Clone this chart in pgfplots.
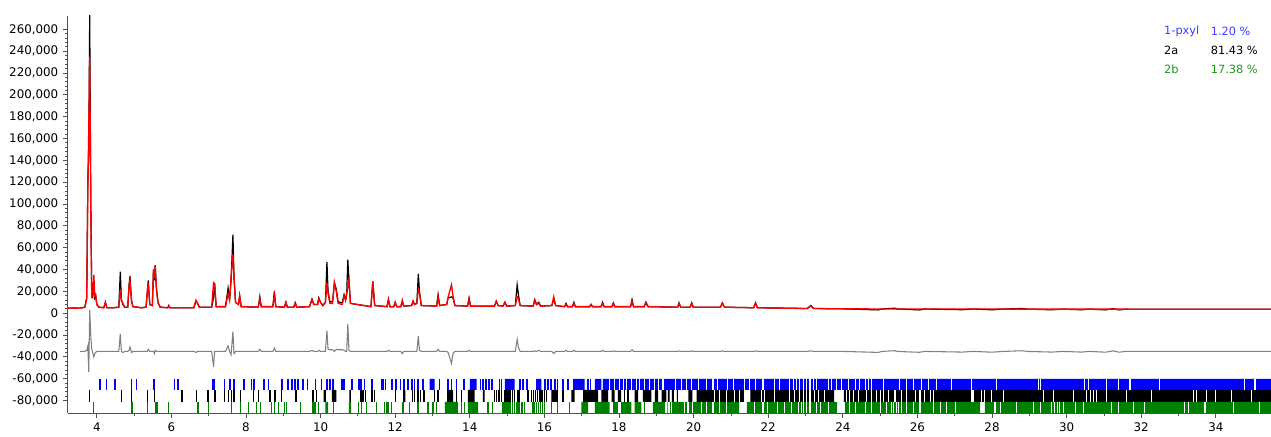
\documentclass[border=0pt]{standalone}
\usepackage{fontspec}
\setmainfont{DejaVu Sans}
\usepackage{pgfplots}
\usepackage{pgfplotstable}
\pgfplotsset{compat=1.18}
\definecolor{phblue}{RGB}{0,0,255}
\definecolor{phgreen}{RGB}{0,128,0}
\definecolor{diffgray}{RGB}{128,128,128}
\definecolor{axgray}{RGB}{80,80,80}
\definecolor{legblue}{RGB}{60,60,255}
\definecolor{leggreen}{RGB}{30,150,30}

% x = 2theta, obs/calc/diff in thousands of counts (diff = obs - calc - 35)
\pgfplotstableread{
x obs calc diff
3.23 4.6 4.6 -35
3.40 4.7 4.7 -35
3.55 4.6 4.6 -35
3.68 5.5 5.5 -35
3.73 14 13 -34
3.76 121 116 -30
3.785 150 169 -54
3.81 273 235 3
3.84 100 87 -22
3.865 17 15 -33
3.89 15 16 -36
3.92 30 35 -40
3.945 14 16 -37
3.97 16 17 -36
4.00 8 8 -35
4.06 5.5 5.5 -35
4.19 5 5 -35
4.23 10 10 -35
4.27 5 5 -35
4.45 5 5 -35
4.59 5.5 5.5 -35
4.63 38 22 -19
4.66 12 12 -35
4.70 8 9 -36
4.75 5.5 5.5 -35
4.83 5.5 5.5 -35
4.865 26 25 -34
4.89 34 30 -31
4.93 11 12 -36
4.97 6 6 -35
5.20 5 5 -35
5.32 5.5 5.5 -35
5.355 20 20 -35
5.38 30 28 -33
5.42 8 8 -35
5.49 7 7 -35
5.52 40 40 -35
5.545 30 32 -37
5.565 44 43 -34
5.60 22 22 -35
5.64 10 10 -35
5.70 5.5 5.5 -35
5.90 5 5 -35
5.93 7 7 -35
5.96 5 5 -35
6.60 5 5 -35
6.66 11 12 -36
6.70 9 9 -35
6.75 5.5 5.5 -35
7.08 5.5 5.5 -35
7.13 14 28 -49
7.16 27 27 -35
7.20 6 6 -35
7.45 6 6 -35
7.52 23 18 -30
7.56 12 12 -35
7.60 30 33 -38
7.65 72 54 -17
7.68 31 33 -37
7.72 10 10 -35
7.80 8 8 -35
7.83 16 16 -35
7.87 6 6 -35
8.33 5.5 5.5 -35
8.37 15 13 -33
8.41 6 6 -35
8.72 6 6 -35
8.76 20 17 -32
8.80 6 6 -35
9.03 5.5 5.5 -35
9.07 10 10 -35
9.11 5.5 5.5 -35
9.28 5.5 5.5 -35
9.32 9.5 9.5 -35
9.36 5.5 5.5 -35
9.70 6 6 -35
9.77 13 12 -34
9.82 8 8 -35
9.92 8 8 -35
9.95 14 13 -34
10.00 10 10 -35
10.06 7 7 -35
10.13 10 10 -35
10.17 47 28 -16
10.20 20 18 -33
10.25 10.5 9 -33.5
10.32 10.5 9 -33.5
10.37 28 28 -35
10.42 22 20 -33
10.47 10.5 9 -33.5
10.58 9.5 8 -33.5
10.63 17 16 -34
10.67 12 12 -35
10.70 18 18 -35
10.73 49 24 -10
10.76 31 30 -34
10.80 9 9 -35
11.35 6 6 -35
11.40 29 29 -35
11.45 7 7 -35
11.78 6 6 -35
11.82 13 12 -34
11.86 6 6 -35
11.96 6 6 -35
12.00 10 10 -35
12.04 6 6 -35
12.15 6 6 -35
12.19 10 12 -37
12.23 6.5 6.5 -35
12.44 7 7 -35
12.48 11 11 -35
12.52 8 8 -35
12.58 9 9 -35
12.62 36 22 -21
12.65 20 19 -34
12.70 7 7 -35
13.11 6.5 6.5 -35
13.15 17 15 -33
13.19 7 7 -35
13.38 8 8 -35
13.42 14 15 -36
13.51 15 26 -46
13.55 14 16 -37
13.60 7 7 -35
13.94 6.5 6.5 -35
13.98 14 13 -34
14.02 6.5 6.5 -35
14.66 6.5 6.5 -35
14.71 11 11 -35
14.76 7 7 -35
14.89 6.5 6.5 -35
14.94 10 10 -35
14.99 6.5 6.5 -35
15.22 7 7 -35
15.27 26 15 -24
15.30 18 14 -31
15.35 7 7 -35
15.70 6.5 6.5 -35
15.74 12.5 12 -34.5
15.79 8 8 -35
15.85 10 9 -34
15.90 6.5 6.5 -35
16.20 7 7 -35
16.25 13 15 -37
16.30 7 7 -35
16.54 6 6 -35
16.58 9 8 -34
16.62 6 6 -35
16.75 6 6 -35
16.79 10 9 -34
16.83 6 6 -35
17.21 6 6 -35
17.25 8 8 -35
17.29 6 6 -35
17.52 6 6 -35
17.56 10 9 -34
17.60 6 6 -35
17.81 6 6 -35
17.85 9.5 9 -34.5
17.89 6 6 -35
18.31 6 6 -35
18.35 12.5 11 -33.5
18.39 6 6 -35
18.68 6 6 -35
18.72 10 10 -35
18.78 6 6 -35
19.57 5.5 5.5 -35
19.61 9.5 9 -34.5
19.65 5.5 5.5 -35
19.91 5.5 5.5 -35
19.95 9.5 9 -34.5
19.99 5.5 5.5 -35
20.72 5.5 5.5 -35
20.77 9.5 9 -34.5
20.83 5.5 5.5 -35
21.61 5 5 -35
21.66 9.5 9 -34.5
21.71 5 5 -35
23.05 4.3 4.3 -35
23.14 7 6.5 -34.5
23.22 4.3 4.3 -35
24.00 4.0 4.0 -35
24.95 3.0 3.9 -35.9
25.05 3.9 3.9 -35
25.40 4.6 3.9 -34.3
25.45 3.9 3.9 -35
26.05 3.0 3.8 -35.8
26.20 3.8 3.8 -35
27.20 3.2 3.8 -35.6
27.50 3.8 3.8 -35
28.00 3.1 3.8 -35.7
28.30 3.8 3.8 -35
28.80 4.3 3.7 -34.4
28.95 3.7 3.7 -35
29.60 3.1 3.7 -35.6
29.90 3.7 3.7 -35
30.40 3.1 3.7 -35.6
30.60 3.7 3.7 -35
31.05 3.0 3.7 -35.7
31.25 4.2 3.7 -34.5
31.40 3.0 3.7 -35.7
31.60 3.7 3.7 -35
35.48 3.6 3.6 -35
}\xrd

\begin{document}
\begin{tikzpicture}
\begin{axis}[name=ax, scale only axis, width=902.25pt, height=297.75pt,
  xmin=3.228, xmax=35.48, ymin=-91.4, ymax=272.2,
  axis x line*=bottom, axis y line*=left,
  axis line style={-, axgray, line width=0.75pt},
  xtick={4,6,...,34}, minor x tick num=1,
  ytick={-80,-60,...,260},
  yticklabels={{-80,000},{-60,000},{-40,000},{-20,000},{0},{20,000},{40,000},{60,000},{80,000},{100,000},{120,000},{140,000},{160,000},{180,000},{200,000},{220,000},{240,000},{260,000}},
  minor y tick num=4,
  tick align=outside, major tick length=3.75pt, minor tick length=2.2pt,
  tick style={axgray, line width=0.6pt},
  ticklabel style={font=\fontsize{8.9}{10}\selectfont, text=black},
  /pgf/number format/assume math mode=true,
  unbounded coords=jump,
  clip=true]

% ---- reflection tick rows: blue (1-pxyl) ----
\addplot[fill=phblue, draw=none] coordinates {
(12.92,-70.2)(12.92,-60.1)(13.06,-60.1)(13.06,-70.2)(nan,nan)
(14.00,-70.2)(14.00,-60.1)(14.18,-60.1)(14.18,-70.2)(nan,nan)
(14.94,-70.2)(14.94,-60.1)(15.20,-60.1)(15.20,-70.2)(nan,nan)
(15.78,-70.2)(15.78,-60.1)(15.92,-60.1)(15.92,-70.2)(nan,nan)
(16.77,-70.2)(16.77,-60.1)(17.08,-60.1)(17.08,-70.2)(nan,nan)
(17.35,-70.2)(17.35,-60.1)(17.53,-60.1)(17.53,-70.2)(nan,nan)
(17.57,-70.2)(17.57,-60.1)(35.6,-60.1)(35.6,-70.2)};
\addplot[only marks, mark=|, mark size=4.14pt, mark options={white, line width=0.8pt}] coordinates {(17.75,-65.15)(17.88,-65.15)(18.02,-65.15)(18.11,-65.15)(18.20,-65.15)(18.33,-65.15)(18.46,-65.15)(18.55,-65.15)(18.69,-65.15)(18.82,-65.15)(18.96,-65.15)(19.05,-65.15)(19.18,-65.15)(19.51,-65.15)(19.67,-65.15)(19.81,-65.15)(19.94,-65.15)(20.12,-65.15)(20.34,-65.15)(20.52,-65.15)(20.65,-65.15)(20.92,-65.15)(21.06,-65.15)(21.37,-65.15)(21.50,-65.15)(21.66,-65.15)(21.86,-65.15)(22.17,-65.15)(22.31,-65.15)(22.58,-65.15)(22.67,-65.15)(22.75,-65.15)(22.84,-65.15)(22.94,-65.15)(23.03,-65.15)(23.12,-65.15)(23.21,-65.15)(23.30,-65.15)(23.61,-65.15)(23.70,-65.15)(23.84,-65.15)(23.97,-65.15)(24.15,-65.15)(24.33,-65.15)(24.46,-65.15)(24.60,-65.15)(24.69,-65.15)(24.77,-65.15)(25.09,-65.15)(25.53,-65.15)(25.71,-65.15)(25.89,-65.15)(26.11,-65.15)(26.29,-65.15)(26.52,-65.15)(26.92,-65.15)(27.45,-65.15)(28.13,-65.15)(29.24,-65.15)(29.29,-65.15)(30.49,-65.15)(30.58,-65.15)(31.08,-65.15)(31.39,-65.15)(31.70,-65.15)(32.50,-65.15)(34.78,-65.15)(35.05,-65.15)};
\addplot[only marks, mark=|, mark size=4.14pt, mark options={phblue, line width=1.25pt}] coordinates {(4.08,-65.15)(4.26,-65.15)(4.48,-65.15)(4.93,-65.15)(5.06,-65.15)(5.54,-65.15)(6.08,-65.15)(6.17,-65.15)(7.12,-65.15)(7.14,-65.15)(7.42,-65.15)(7.57,-65.15)(7.68,-65.15)(7.95,-65.15)(8.15,-65.15)(8.22,-65.15)(8.49,-65.15)(8.60,-65.15)(8.96,-65.15)(8.98,-65.15)(9.13,-65.15)(9.24,-65.15)(9.31,-65.15)(9.40,-65.15)(9.53,-65.15)(9.65,-65.15)(9.86,-65.15)(10.02,-65.15)(10.18,-65.15)(10.26,-65.15)(10.34,-65.15)(10.58,-65.15)(10.63,-65.15)(10.85,-65.15)(11.03,-65.15)(11.09,-65.15)(11.18,-65.15)(11.38,-65.15)(11.63,-65.15)(11.67,-65.15)(11.74,-65.15)(11.91,-65.15)(12.03,-65.15)(12.14,-65.15)(12.24,-65.15)(12.34,-65.15)(12.45,-65.15)(12.52,-65.15)(12.61,-65.15)(12.75,-65.15)(13.19,-65.15)(13.42,-65.15)(13.51,-65.15)(13.64,-65.15)(13.84,-65.15)(14.29,-65.15)(14.35,-65.15)(14.44,-65.15)(14.51,-65.15)(14.60,-65.15)(14.80,-65.15)(14.85,-65.15)(15.34,-65.15)(15.43,-65.15)(15.54,-65.15)(16.01,-65.15)(16.10,-65.15)(16.17,-65.15)(16.28,-65.15)(16.35,-65.15)(16.50,-65.15)(16.63,-65.15)(17.17,-65.15)(17.24,-65.15)};

% ---- black (2a) ----
\addplot[fill=black, draw=none] coordinates {
(10.08,-81.2)(10.08,-70.2)(10.14,-70.2)(10.14,-81.2)(nan,nan)
(10.30,-81.2)(10.30,-70.2)(10.42,-70.2)(10.42,-81.2)(nan,nan)
(10.77,-81.2)(10.77,-70.2)(10.81,-70.2)(10.81,-81.2)(nan,nan)
(12.21,-81.2)(12.21,-70.2)(12.27,-70.2)(12.27,-81.2)(nan,nan)
(13.39,-81.2)(13.39,-70.2)(13.55,-70.2)(13.55,-81.2)(nan,nan)
(13.95,-81.2)(13.95,-70.2)(14.13,-70.2)(14.13,-81.2)(nan,nan)
(14.35,-81.2)(14.35,-70.2)(14.40,-70.2)(14.40,-81.2)(nan,nan)
(15.27,-81.2)(15.27,-70.2)(15.34,-70.2)(15.34,-81.2)(nan,nan)
(16.19,-81.2)(16.19,-70.2)(16.36,-70.2)(16.36,-81.2)(nan,nan)
(16.72,-81.2)(16.72,-70.2)(16.81,-70.2)(16.81,-81.2)(nan,nan)
(17.04,-81.2)(17.04,-70.2)(17.44,-70.2)(17.44,-81.2)(nan,nan)
(17.53,-81.2)(17.53,-70.2)(17.71,-70.2)(17.71,-81.2)(nan,nan)
(17.80,-81.2)(17.80,-70.2)(17.88,-70.2)(17.88,-81.2)(nan,nan)
(17.97,-81.2)(17.97,-70.2)(18.06,-70.2)(18.06,-81.2)(nan,nan)
(18.42,-81.2)(18.42,-70.2)(18.51,-70.2)(18.51,-81.2)(nan,nan)
(18.64,-81.2)(18.64,-70.2)(18.87,-70.2)(18.87,-81.2)(nan,nan)
(18.96,-81.2)(18.96,-70.2)(19.05,-70.2)(19.05,-81.2)(nan,nan)
(19.14,-81.2)(19.14,-70.2)(19.27,-70.2)(19.27,-81.2)(nan,nan)
(19.31,-81.2)(19.31,-70.2)(19.36,-70.2)(19.36,-81.2)(nan,nan)
(19.42,-81.2)(19.42,-70.2)(19.47,-70.2)(19.47,-81.2)(nan,nan)
(19.55,-81.2)(19.55,-70.2)(19.58,-70.2)(19.58,-81.2)(nan,nan)
(19.86,-81.2)(19.86,-70.2)(19.97,-70.2)(19.97,-81.2)(nan,nan)
(20.08,-81.2)(20.08,-70.2)(21.35,-70.2)(21.35,-81.2)(nan,nan)
(21.52,-81.2)(21.52,-70.2)(23.77,-70.2)(23.77,-81.2)(nan,nan)
(24.03,-81.2)(24.03,-70.2)(35.6,-70.2)(35.6,-81.2)};
\addplot[only marks, mark=|, mark size=4.5pt, mark options={white, line width=0.8pt}] coordinates {(20.57,-75.7)(20.70,-75.7)(20.88,-75.7)(21.10,-75.7)(21.24,-75.7)(21.82,-75.7)(21.91,-75.7)(22.17,-75.7)(22.58,-75.7)(22.71,-75.7)(22.84,-75.7)(22.95,-75.7)(23.03,-75.7)(23.12,-75.7)(23.25,-75.7)(23.34,-75.7)(23.52,-75.7)(24.10,-75.7)(24.19,-75.7)(24.28,-75.7)(24.42,-75.7)(24.64,-75.7)(24.77,-75.7)(24.91,-75.7)(25.00,-75.7)(25.09,-75.7)(25.22,-75.7)(25.40,-75.7)(25.58,-75.7)(25.71,-75.7)(25.94,-75.7)(26.07,-75.7)(26.20,-75.7)(26.34,-75.7)(26.43,-75.7)(27.45,-75.7)(27.49,-75.7)(27.72,-75.7)(27.81,-75.7)(27.99,-75.7)(28.30,-75.7)(29.38,-75.7)(29.65,-75.7)(30.18,-75.7)(30.54,-75.7)(30.63,-75.7)(30.72,-75.7)(30.81,-75.7)(31.07,-75.7)(31.61,-75.7)(32.28,-75.7)(33.40,-75.7)(33.49,-75.7)(33.76,-75.7)(33.98,-75.7)(34.43,-75.7)(34.96,-75.7)};
\addplot[only marks, mark=|, mark size=4.5pt, mark options={black, line width=1pt}] coordinates {(3.81,-75.7)(4.66,-75.7)(4.93,-75.7)(5.36,-75.7)(5.54,-75.7)(6.28,-75.7)(6.68,-75.7)(6.98,-75.7)(7.17,-75.7)(7.42,-75.7)(7.53,-75.7)(7.62,-75.7)(7.68,-75.7)(7.86,-75.7)(8.20,-75.7)(8.33,-75.7)(8.64,-75.7)(8.76,-75.7)(8.79,-75.7)(8.96,-75.7)(9.34,-75.7)(9.80,-75.7)(9.89,-75.7)(11.08,-75.7)(11.14,-75.7)(11.21,-75.7)(11.38,-75.7)(11.45,-75.7)(12.00,-75.7)(12.46,-75.7)(12.52,-75.7)(12.61,-75.7)(12.68,-75.7)(12.77,-75.7)(13.06,-75.7)(13.15,-75.7)(13.64,-75.7)(13.77,-75.7)(14.67,-75.7)(14.72,-75.7)(14.78,-75.7)(14.85,-75.7)(14.94,-75.7)(15.00,-75.7)(15.05,-75.7)(15.10,-75.7)(15.15,-75.7)(15.20,-75.7)(15.56,-75.7)(15.65,-75.7)(15.70,-75.7)(15.76,-75.7)(15.82,-75.7)(15.88,-75.7)(15.94,-75.7)(16.00,-75.7)(16.06,-75.7)(16.50,-75.7)(18.15,-75.7)(18.24,-75.7)};

% ---- green (2b) ----
\addplot[fill=phgreen, draw=none] coordinates {
(10.13,-91.4)(10.13,-81.2)(10.20,-81.2)(10.20,-91.4)(nan,nan)
(10.76,-91.4)(10.76,-81.2)(10.82,-81.2)(10.82,-91.4)(nan,nan)
(13.33,-91.4)(13.33,-81.2)(13.68,-81.2)(13.68,-91.4)(nan,nan)
(13.95,-91.4)(13.95,-81.2)(14.22,-81.2)(14.22,-91.4)(nan,nan)
(16.99,-91.4)(16.99,-81.2)(17.17,-81.2)(17.17,-91.4)(nan,nan)
(17.35,-91.4)(17.35,-81.2)(17.75,-81.2)(17.75,-91.4)(nan,nan)
(17.84,-91.4)(17.84,-81.2)(17.97,-81.2)(17.97,-91.4)(nan,nan)
(18.06,-91.4)(18.06,-81.2)(18.33,-81.2)(18.33,-91.4)(nan,nan)
(18.42,-91.4)(18.42,-81.2)(18.60,-81.2)(18.60,-91.4)(nan,nan)
(18.91,-91.4)(18.91,-81.2)(19.23,-81.2)(19.23,-91.4)(nan,nan)
(19.30,-91.4)(19.30,-81.2)(21.22,-81.2)(21.22,-91.4)(nan,nan)
(21.43,-91.4)(21.43,-81.2)(23.84,-81.2)(23.84,-91.4)(nan,nan)
(24.06,-91.4)(24.06,-81.2)(27.68,-81.2)(27.68,-91.4)(nan,nan)
(27.81,-91.4)(27.81,-81.2)(35.6,-81.2)(35.6,-91.4)};
\addplot[only marks, mark=|, mark size=4.18pt, mark options={white, line width=0.8pt}] coordinates {(19.34,-86.3)(19.40,-86.3)(19.76,-86.3)(19.85,-86.3)(19.98,-86.3)(20.21,-86.3)(20.34,-86.3)(20.52,-86.3)(20.70,-86.3)(20.88,-86.3)(21.64,-86.3)(21.86,-86.3)(21.99,-86.3)(22.26,-86.3)(22.44,-86.3)(22.62,-86.3)(22.80,-86.3)(22.90,-86.3)(22.95,-86.3)(23.03,-86.3)(23.12,-86.3)(23.30,-86.3)(23.39,-86.3)(23.61,-86.3)(24.19,-86.3)(24.33,-86.3)(24.60,-86.3)(24.77,-86.3)(25.00,-86.3)(25.18,-86.3)(25.31,-86.3)(25.37,-86.3)(25.43,-86.3)(25.49,-86.3)(25.58,-86.3)(25.71,-86.3)(25.89,-86.3)(26.07,-86.3)(26.43,-86.3)(26.61,-86.3)(26.79,-86.3)(27.01,-86.3)(28.08,-86.3)(28.22,-86.3)(28.66,-86.3)(29.11,-86.3)(29.29,-86.3)(29.60,-86.3)(29.67,-86.3)(29.75,-86.3)(29.82,-86.3)(29.91,-86.3)(30.23,-86.3)(30.45,-86.3)(31.21,-86.3)(31.39,-86.3)(31.79,-86.3)(32.10,-86.3)(33.17,-86.3)(33.26,-86.3)(33.71,-86.3)(34.47,-86.3)(35.17,-86.3)};
\addplot[only marks, mark=|, mark size=4.18pt, mark options={phgreen, line width=1pt}] coordinates {(3.92,-86.3)(4.94,-86.3)(5.36,-86.3)(5.57,-86.3)(5.61,-86.3)(5.93,-86.3)(6.71,-86.3)(6.99,-86.3)(7.62,-86.3)(7.86,-86.3)(8.06,-86.3)(8.29,-86.3)(8.38,-86.3)(8.69,-86.3)(8.76,-86.3)(8.87,-86.3)(9.03,-86.3)(9.09,-86.3)(9.46,-86.3)(9.80,-86.3)(9.85,-86.3)(9.94,-86.3)(10.34,-86.3)(11.01,-86.3)(11.09,-86.3)(11.23,-86.3)(11.49,-86.3)(11.72,-86.3)(11.77,-86.3)(11.81,-86.3)(11.90,-86.3)(12.21,-86.3)(12.39,-86.3)(12.61,-86.3)(12.88,-86.3)(13.01,-86.3)(13.10,-86.3)(13.77,-86.3)(13.86,-86.3)(14.49,-86.3)(14.60,-86.3)(14.89,-86.3)(14.93,-86.3)(14.97,-86.3)(15.01,-86.3)(15.05,-86.3)(15.10,-86.3)(15.15,-86.3)(15.20,-86.3)(15.25,-86.3)(15.29,-86.3)(15.34,-86.3)(15.40,-86.3)(15.47,-86.3)(15.69,-86.3)(15.74,-86.3)(15.79,-86.3)(15.84,-86.3)(15.90,-86.3)(15.95,-86.3)(16.01,-86.3)(16.19,-86.3)(16.36,-86.3)(16.68,-86.3)(18.69,-86.3)};

% ---- curves ----
\addplot[diffgray, line width=0.8pt, restrict x to domain=3.52:40] table[x=x, y=diff] {\xrd};
\addplot[black, line width=0.9pt] table[x=x, y=obs] {\xrd};
\addplot[red, line width=1pt] table[x=x, y=calc] {\xrd};

% ---- phase legend ----
\node[anchor=west, inner sep=0pt, text=legblue, font=\fontsize{8.5}{10}\selectfont] at (axis cs:32.61,257.8) {1-pxyl};
\node[anchor=west, inner sep=0pt, text=legblue, font=\fontsize{8.5}{10}\selectfont] at (axis cs:33.86,257.8) {1.20 \%};
\node[anchor=west, inner sep=0pt, text=black, font=\fontsize{8.5}{10}\selectfont] at (axis cs:32.61,241.0) {2a};
\node[anchor=west, inner sep=0pt, text=black, font=\fontsize{8.5}{10}\selectfont] at (axis cs:33.86,241.0) {81.43 \%};
\node[anchor=west, inner sep=0pt, text=leggreen, font=\fontsize{8.5}{10}\selectfont] at (axis cs:32.61,223.4) {2b};
\node[anchor=west, inner sep=0pt, text=leggreen, font=\fontsize{8.5}{10}\selectfont] at (axis cs:33.86,223.4) {17.38 \%};
\end{axis}
\pgfresetboundingbox
\path ([shift={(-51pt,-17.25pt)}]ax.south west) rectangle ([shift={(0pt,12pt)}]ax.north east);
\end{tikzpicture}
\end{document}
